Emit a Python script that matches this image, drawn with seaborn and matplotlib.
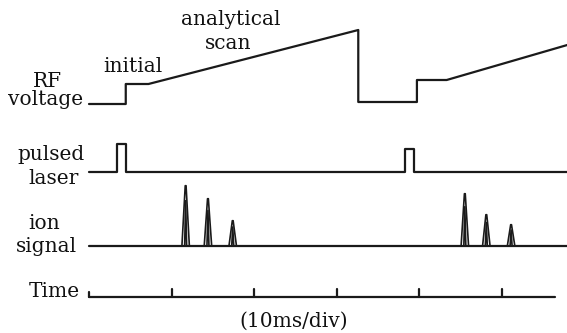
import numpy as np
import pandas as pd
import matplotlib
matplotlib.use("Agg")
import matplotlib.pyplot as plt
import seaborn as sns

# ---- data (time in ms, heights in arbitrary pixel-like units) ----
rf_t = [0.0, 4.45, 4.45, 7.2, 32.6, 32.6, 39.7, 39.7, 43.3, 57.9]
rf_h = [0, 0, 20, 20, 74, 2, 2, 24, 24, 59]

laser_t = [0.0, 3.45, 3.45, 4.48, 4.48, 38.2, 38.2, 39.4, 39.4, 57.9]
laser_h = [0, 0, 28, 28, 0, 0, 23.5, 23.5, 0, 0]

peak_t = [11.7, 14.4, 17.4, 45.5, 48.1, 51.1]
peak_h = [60, 47, 25, 52, 31, 21]

time_ticks = [0, 10, 20, 30, 40, 50]
time_end = 56.4

labels = ["RF", "voltage", "initial", "analytical", "scan", "pulsed", "laser",
          "ion", "signal", "Time", "(10ms/div)"]

# ---- layout ----
PX_PER_MS = 8.26
X0 = 89.0
def px2t(x):
    return (x - X0) / PX_PER_MS

base_rf, base_laser, base_ion, base_time = 104.0, 172.3, 245.7, 297.3

rows = []
def add(seg, ts, ys, kind="main"):
    for t, y in zip(ts, ys):
        rows.append({"t": t, "y": y, "seg": seg, "kind": kind})

add("rf", rf_t, [base_rf - h for h in rf_h])
add("laser", laser_t, [base_laser - h for h in laser_h])
add("ion_base", [0.0, 57.9], [base_ion, base_ion])
for i, (pt, ph) in enumerate(zip(peak_t, peak_h)):
    w = 0.45
    add(f"peak{i}o", [pt - w, pt - 0.05, pt + 0.05, pt + w],
        [base_ion, base_ion - ph, base_ion - ph, base_ion], "peak")
    w2 = 0.12
    add(f"peak{i}i", [pt - w2, pt, pt + w2],
        [base_ion, base_ion - ph * 0.75, base_ion], "peak")
add("time", [0.0, time_end], [base_time, base_time])
for i, tk in enumerate(time_ticks):
    th = 5 if i == 0 else 8
    add(f"tick{i}", [tk, tk], [base_time, base_time - th])

df = pd.DataFrame(rows)

sns.set_style("white")
plt.rcParams['font.family'] = ['DejaVu Serif']

fig = plt.figure(figsize=(5.67, 3.33), dpi=100)
ax = fig.add_axes([0, 0, 1, 1])
sns.lineplot(data=df[df["kind"] == "main"], x="t", y="y", units="seg",
             estimator=None, sort=False, color="#1a1a1a", linewidth=1.6,
             legend=False, ax=ax)
sns.lineplot(data=df[df["kind"] == "peak"], x="t", y="y", units="seg",
             estimator=None, sort=False, color="#1a1a1a", linewidth=1.2,
             legend=False, ax=ax)
ax.set_xlim(px2t(0), px2t(567))
ax.set_ylim(333, 0)
ax.axis("off")

fs = 14.5
kw = dict(fontsize=fs, color="#111111", ha="center", va="baseline")
ax.text(px2t(47.5), 87.3, labels[0], **kw)
ax.text(px2t(46), 105, labels[1], **kw)
ax.text(px2t(133), 71.7, labels[2], **kw)
ax.text(px2t(231), 25, labels[3], **kw)
ax.text(px2t(228), 49.3, labels[4], **kw)
ax.text(px2t(51), 160, labels[5], **kw)
ax.text(px2t(54), 184.3, labels[6], **kw)
ax.text(px2t(44), 229, labels[7], **kw)
ax.text(px2t(46), 251.5, labels[8], **kw)
ax.text(px2t(54), 296.7, labels[9], **kw)
ax.text(px2t(294), 327, labels[10], **kw)

fig.savefig("out.png", dpi=100)
